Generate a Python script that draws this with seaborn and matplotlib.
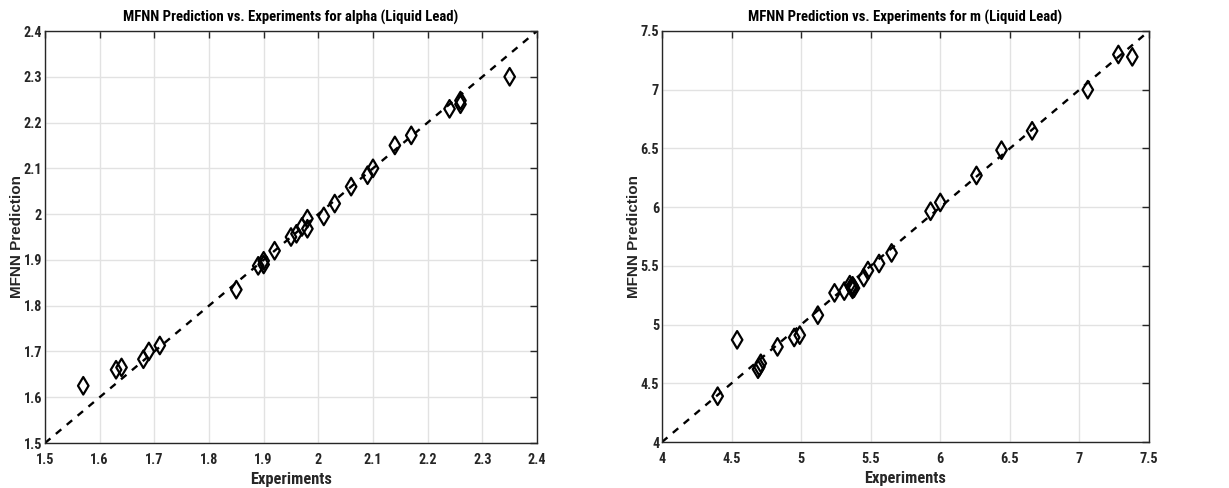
import matplotlib
matplotlib.use("Agg")
import matplotlib.pyplot as plt
import seaborn as sns
import pandas as pd
from matplotlib import font_manager
from matplotlib.font_manager import FontProperties

# Experimental vs predicted values for the thermal expansion coefficient alpha
alpha_exp = [1.57, 1.63, 1.64, 1.68, 1.69, 1.71, 1.85, 1.89, 1.90, 1.90, 1.92,
             1.95, 1.96, 1.97, 1.98, 1.98, 2.01, 2.03, 2.06, 2.09, 2.10, 2.14,
             2.17, 2.24, 2.26, 2.26, 2.35]
alpha_pred = [1.625, 1.660, 1.665, 1.683, 1.700, 1.713, 1.835, 1.887, 1.898, 1.890, 1.920,
              1.950, 1.957, 1.972, 1.990, 1.968, 1.995, 2.023, 2.060, 2.085, 2.100, 2.150,
              2.172, 2.230, 2.240, 2.248, 2.300]

# Experimental vs predicted values for m
m_exp = [4.40, 4.54, 4.69, 4.70, 4.71, 4.83, 4.95, 4.99, 5.12, 5.24, 5.31,
         5.35, 5.36, 5.37, 5.37, 5.38, 5.45, 5.48, 5.56, 5.65, 5.93, 6.00,
         6.26, 6.44, 6.66, 7.06, 7.28, 7.38]
m_pred = [4.39, 4.87, 4.62, 4.64, 4.67, 4.81, 4.89, 4.91, 5.08, 5.27, 5.285,
          5.34, 5.32, 5.30, 5.33, 5.31, 5.40, 5.46, 5.52, 5.61, 5.965, 6.04,
          6.27, 6.485, 6.65, 7.00, 7.30, 7.28]

alpha_ticks = [1.5, 1.6, 1.7, 1.8, 1.9, 2.0, 2.1, 2.2, 2.3, 2.4]
alpha_ticklabels = ["1.5", "1.6", "1.7", "1.8", "1.9", "2", "2.1", "2.2", "2.3", "2.4"]
m_ticks = [4.0, 4.5, 5.0, 5.5, 6.0, 6.5, 7.0, 7.5]
m_ticklabels = ["4", "4.5", "5", "5.5", "6", "6.5", "7", "7.5"]

sns.set_style("white")
plt.rcParams["font.family"] = ["Liberation Sans", "DejaVu Sans"]


def narrow_bold():
    """Pick a condensed bold face if one is installed."""
    best = None
    for f in font_manager.fontManager.ttflist:
        nm = f.name.lower()
        path = f.fname.lower()
        narrow = ("narrow" in nm or "condensed" in nm or "narrow" in path
                  or "condensed" in path or str(f.stretch) in
                  ("condensed", "semi-condensed", "extra-condensed", "500", "600", "700"))
        if "semi" in path and "condensed" in path:
            continue
        bold = (f.weight in ("bold", 700, "700") or "bold" in path)
        if narrow and bold and "oblique" not in path and "italic" not in path:
            rank = 0 if "liberation" in path else (1 if "roboto" in path else 2)
            if best is None or rank < best[0]:
                best = (rank, f.fname)
    return FontProperties(fname=best[1]) if best else None


NARROW = narrow_bold()


def fp(size, use_narrow=True):
    if use_narrow and NARROW is not None:
        p = NARROW.copy()
        p.set_size(size)
        return p
    return FontProperties(family=["Liberation Sans", "DejaVu Sans"], weight="bold",
                          size=size * 0.86)


fig = plt.figure(figsize=(12.29, 4.88), dpi=100)
W, H = 1229, 488
ax1 = fig.add_axes([45 / W, 1 - 443 / H, (537 - 45) / W, (443 - 31) / H])
ax2 = fig.add_axes([662 / W, 1 - 442 / H, (1149 - 662) / W, (442 - 31) / H])


def draw(ax, xs, ys, ticks, labels, title):
    df = pd.DataFrame({"Experiments": xs, "MFNN Prediction": ys})
    ax.axline((ticks[0], ticks[0]), slope=1, color="black", lw=1.7,
              ls=(0, (3.0, 3.0)), zorder=2)
    sns.scatterplot(data=df, x="Experiments", y="MFNN Prediction", ax=ax,
                    marker="d", s=80, facecolor="none", edgecolor="black",
                    linewidth=1.6, zorder=3)
    ax.set_xlim(ticks[0], ticks[-1])
    ax.set_ylim(ticks[0], ticks[-1])
    ax.set_xticks(ticks)
    ax.set_yticks(ticks)
    ax.set_xticklabels(labels, fontproperties=fp(10.2), color="#262626")
    ax.set_yticklabels(labels, fontproperties=fp(10.2), color="#262626")
    ax.grid(True, color="#e2e2e2", lw=1.0)
    ax.set_axisbelow(True)
    ax.tick_params(axis="x", direction="in", length=5, width=1, top=True,
                   color="#262626", pad=7)
    ax.tick_params(axis="y", direction="in", length=5, width=1, right=True,
                   color="#262626", pad=2)
    for sp in ax.spines.values():
        sp.set_visible(True)
        sp.set_color("#262626")
        sp.set_linewidth(1.0)
    ax.set_xlabel("Experiments", fontproperties=fp(11.8), color="#262626", labelpad=4)
    ax.set_ylabel("MFNN Prediction", fontsize=11, fontweight="bold",
                  color="#262626", labelpad=0)
    ax.set_title(title, fontproperties=fp(10.6), color="black", pad=7)


draw(ax1, alpha_exp, alpha_pred, alpha_ticks, alpha_ticklabels,
     "MFNN Prediction vs. Experiments for alpha (Liquid Lead)")
draw(ax2, m_exp, m_pred, m_ticks, m_ticklabels,
     "MFNN Prediction vs. Experiments for m (Liquid Lead)")

fig.savefig("out.png", dpi=100)
